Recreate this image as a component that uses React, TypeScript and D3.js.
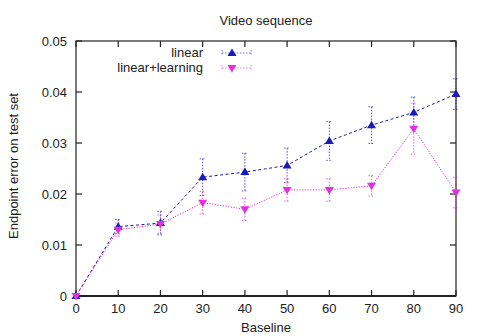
import React from "react";
import * as d3 from "d3";

const baselines = [0, 10, 20, 30, 40, 50, 60, 70, 80, 90];
const linearVals = [0, 0.0136, 0.0143, 0.0233, 0.0243, 0.0256, 0.0304, 0.0335, 0.036, 0.0396];
const linearErr = [0, 0.0014, 0.0023, 0.0036, 0.0037, 0.0034, 0.0038, 0.0036, 0.003, 0.003];
const learnVals = [0, 0.013, 0.0141, 0.0183, 0.017, 0.0208, 0.0208, 0.0216, 0.0328, 0.0203];
const learnErr = [0, 0.0013, 0.0018, 0.0022, 0.0022, 0.0022, 0.0022, 0.002, 0.005, 0.003];
const xTicks = [0, 10, 20, 30, 40, 50, 60, 70, 80, 90];
const yTicks = [0, 0.01, 0.02, 0.03, 0.04, 0.05];
const yTickLabels = ["0", "0.01", "0.02", "0.03", "0.04", "0.05"];

const W = 479, H = 336;
const L = 76, R = 456, T = 41, B = 296;
const BLUE = "#1a1ab8";
const MAG = "#e030e0";

export default function App() {
  const x = d3.scaleLinear().domain([0, 90]).range([L, R]);
  const y = d3.scaleLinear().domain([0, 0.05]).range([B, T]);
  const line = d3.line<number>().x((_, i) => x(baselines[i])).y((d) => y(d));
  const font = "'Liberation Sans', Arial, sans-serif";
  const FS = 13;

  const errBars = (vals: number[], errs: number[], color: string, key: string) =>
    vals.map((v, i) => {
      if (errs[i] === 0) return null;
      const cx = x(baselines[i]);
      const y1 = y(v + errs[i]);
      const y2 = y(v - errs[i]);
      return (
        <g key={key + i} stroke={color} strokeWidth={1} strokeDasharray="1.5,1.5" opacity={0.75}>
          <line x1={cx} x2={cx} y1={y1} y2={y2} />
          <line x1={cx - 3} x2={cx + 3} y1={y1} y2={y1} />
          <line x1={cx - 3} x2={cx + 3} y1={y2} y2={y2} />
        </g>
      );
    });

  const up = (cx: number, cy: number, c: string, k: string) => (
    <path key={k} d={`M${cx},${cy - 4.5}L${cx + 4.5},${cy + 3}L${cx - 4.5},${cy + 3}Z`} fill={c} />
  );
  const down = (cx: number, cy: number, c: string, k: string) => (
    <path key={k} d={`M${cx},${cy + 4.5}L${cx + 4.5},${cy - 3}L${cx - 4.5},${cy - 3}Z`} fill={c} />
  );

  return (
    <svg width={W} height={H} style={{ position: "absolute", left: 0, top: 0, background: "#fff" }} fontFamily={font}>
      <rect x={0} y={0} width={W} height={H} fill="#fff" />
      <text x={266} y={24.5} textAnchor="middle" fontSize={FS} fill="#222">Video sequence</text>
      {/* frame */}
      <rect x={L} y={T} width={R - L} height={B - T} fill="none" stroke="#222" strokeWidth={1.2} />
      <line x1={L} x2={R} y1={B} y2={B} stroke="#222" strokeWidth={2} />
      {xTicks.map((t) => (
        <g key={"xt" + t}>
          <line x1={x(t)} x2={x(t)} y1={B} y2={B - 6} stroke="#222" strokeWidth={1.2} />
          <line x1={x(t)} x2={x(t)} y1={T} y2={T + 6} stroke="#222" strokeWidth={1.2} />
          <text x={x(t)} y={B + 17} textAnchor="middle" fontSize={FS} fill="#222">{t}</text>
        </g>
      ))}
      {yTicks.map((t, i) => (
        <g key={"yt" + t}>
          <line x1={L} x2={L + 6} y1={y(t)} y2={y(t)} stroke="#222" strokeWidth={1.2} />
          <line x1={R} x2={R - 6} y1={y(t)} y2={y(t)} stroke="#222" strokeWidth={1.2} />
          <text x={L - 9} y={y(t) + 4.5} textAnchor="end" fontSize={FS} fill="#222">{yTickLabels[i]}</text>
        </g>
      ))}
      <text x={266} y={332} textAnchor="middle" fontSize={FS} fill="#222">Baseline</text>
      <text transform={`translate(18,166) rotate(-90)`} textAnchor="middle" fontSize={FS} fill="#222">Endpoint error on test set</text>

      {errBars(linearVals, linearErr, BLUE, "lb")}
      {errBars(learnVals, learnErr, MAG, "mb")}
      <path d={line(linearVals) || ""} fill="none" stroke={BLUE} strokeWidth={1} strokeDasharray="3,2.5" />
      <path d={line(learnVals) || ""} fill="none" stroke={MAG} strokeWidth={1} strokeDasharray="1.2,1.5" />
      {linearVals.map((v, i) => up(x(baselines[i]), y(v), BLUE, "lu" + i))}
      {learnVals.map((v, i) => down(x(baselines[i]), y(v), MAG, "md" + i))}

      {/* legend */}
      <text x={203} y={57} textAnchor="end" fontSize={FS} fill="#222">linear</text>
      <g stroke={BLUE} strokeWidth={1} strokeDasharray="1.5,1.5" opacity={0.6}>
        <line x1={222} x2={251} y1={53} y2={53} />
        <line x1={222} x2={222} y1={50} y2={56} />
        <line x1={251} x2={251} y1={50} y2={56} />
      </g>
      {up(232, 53, BLUE, "legu")}
      <text x={203} y={72} textAnchor="end" fontSize={FS} fill="#222">linear+learning</text>
      <g stroke={MAG} strokeWidth={1} strokeDasharray="1.5,1.5" opacity={0.6}>
        <line x1={222} x2={251} y1={68} y2={68} />
        <line x1={222} x2={222} y1={65} y2={71} />
        <line x1={251} x2={251} y1={65} y2={71} />
      </g>
      {down(232, 68, MAG, "legd")}
    </svg>
  );
}
